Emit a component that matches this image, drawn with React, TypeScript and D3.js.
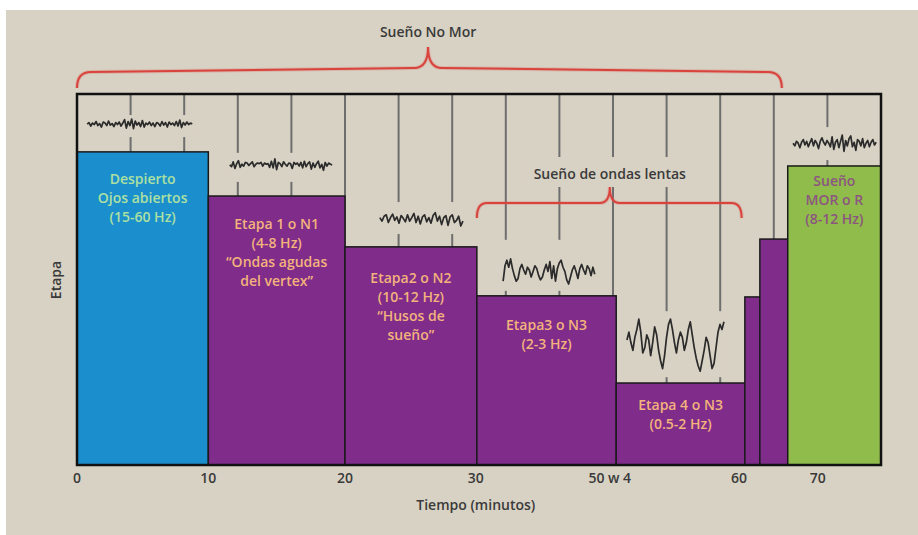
import React from "react";
import * as d3 from "d3";

// ---------- data ----------
const stageNames = ["Despierto", "Etapa 1", "Etapa 2", "Etapa 3", "Etapa 4", "Transición a", "Transición b", "MOR"];
// start / end on the horizontal position axis (grid units, 0..15)
const stageStart = [0, 2.45, 5.0, 7.46, 10.06, 12.46, 12.74, 13.26];
const stageEnd = [2.45, 5.0, 7.46, 10.06, 12.46, 12.74, 13.26, 15];
// bar height (0..100)
const stageLevel = [84.4, 72.5, 58.8, 45.6, 22.1, 45.3, 60.9, 80.6];
const stageKind = ["wake", "nrem", "nrem", "nrem", "nrem", "nrem", "nrem", "rem"];
const stageLabels = [
  ["Despierto", "Ojos abiertos", "(15-60 Hz)"],
  ["Etapa 1 o N1", "(4-8 Hz)", "“Ondas agudas", "del vertex”"],
  ["Etapa2 o N2", "(10-12 Hz)", "“Husos de", "sueño”"],
  ["Etapa3 o N3", "(2-3 Hz)"],
  ["Etapa 4 o N3", "(0.5-2 Hz)"],
  [],
  [],
  ["Sueño", "MOR o R", "(8-12 Hz)"],
];

const tickValues = [0, 2.45, 5.0, 7.44, 9.94, 12.35, 13.82];
const tickLabels = ["0", "10", "20", "30", "50 w 4", "60", "70"];
const gridValues = [1, 2, 3, 4, 5, 6, 7, 8, 9, 10, 11, 12, 13, 14];

// EEG traces (normalised amplitude)
const eegWake = [0, 0.3, -0.4, 0.2, -0.1, 0.5, -0.3, 0.1, -0.6, 0.4, 0.2, -0.3, 0.6, -0.2, 0.1, -0.5, 0.3, -0.1, 0.4, -0.4, 0.2, 0.9, -0.8, 0.5, -0.3, 1.0, -0.9, 0.6, -0.2, 0.3, -0.5, 0.7, -0.6, 0.2, -0.1, 0.4, -0.3, 0.2, -0.5, 0.3, 0.1, -0.4, 0.5, -0.2, 0.3, -0.6, 0.4, -0.1, 0.2, -0.3, 0.5, -0.4, 0.8, -0.7, 0.3, -0.2, 0.4, -0.1, 0.2, 0];
const eegN1 = [0, -0.3, 0.5, -0.6, 0.2, 0.7, -0.4, 0.1, -0.2, 0.4, 0.3, -0.1, 0.2, 0.5, -0.3, 0.1, 0.3, 0.2, 0.4, -0.2, 0.3, 0.1, 0.2, -0.4, 0.6, -0.5, 1.0, -0.8, 0.4, 0.2, -0.3, 0.5, 0.1, -0.2, 0.3, 0.2, -0.6, 0.4, 0.1, 0.3, -0.2, 0.4, -0.5, 0.6, -0.3, 0.2, 0.5, -0.7, 0.3, -0.4, 0.2, 0.6, -0.5, 0.1, -0.9, 0.4, -0.2, 0.3, 0.1, 0];
const eegN2 = [0.2, -0.3, 0.4, 0.6, -0.5, 0.2, 0.7, -0.2, 0.3, -0.6, 0.5, 0.1, -0.4, 0.6, -0.3, 0.2, 0.8, -0.5, 0.4, -0.7, 0.3, 0.6, -0.4, 0.2, -0.6, 0.5, 0.9, -0.3, 0.4, -0.8, 0.2, 0.5, -0.9, 0.3, 0.6, -0.5, -0.2, 0.4, -1.0, -0.3];
const eegN3 = [-0.6, 0.5, 0.9, 0.4, 1.0, 0.3, -0.2, -0.6, -0.4, 0.3, 0.6, 0.2, -0.1, 0.4, 0.2, -0.3, 0.1, 0.5, 0.3, -0.2, -0.5, -0.3, 0.2, 0.6, 0.1, 0.8, -0.4, 0.5, -0.6, 0.3, 0.7, 0.9, 0.4, 0.1, -0.5, -0.8, -0.3, 0.2, 0.5, 0.1, -0.4, 0.3, 0.6, 0.2, -0.1, 0.5, 0.3, -0.2, 0.4, -0.1];
const eegN4 = [0.2, 0.5, 0.1, -0.2, 0.3, 0.6, 1.0, 0.5, -0.3, -0.1, 0.4, 0.2, -0.4, 0.1, 0.7, 0.4, -0.2, -0.6, -0.9, -0.4, 0.3, 0.8, 1.0, 0.6, 0.1, -0.3, 0.2, 0.5, 0.3, -0.2, 0.1, 0.6, 0.9, 0.4, -0.1, -0.5, -0.8, -1.0, -0.6, -0.2, 0.3, 0.1, -0.4, -0.9, -0.7, -0.1, 0.5, 0.8, 0.6, 0.9];
const eegRem = [0.1, -0.2, 0.3, 0.1, -0.4, 0.2, 0.5, -0.1, 0.3, -0.3, 0.2, 0.6, -0.2, 0.4, 0.1, -0.5, 0.3, 0.7, 0.2, -0.1, 0.4, 0.1, -0.3, 0.8, -0.6, 0.2, 0.5, -0.4, 0.3, 1.0, -0.8, 0.4, -0.2, 0.6, 0.9, -0.3, 0.2, -0.7, 0.5, 0.3, -0.2, 0.6, -0.4, 0.1, 0.4, -0.3, 0.2, 0.5, -0.1, 0.2];

// ---------- layout ----------
const FONT = "'Open Sans', 'Noto Sans', sans-serif";
const BG = "#d8d2c4";
const COLORS: Record<string, string> = { wake: "#1b8fcd", nrem: "#7f2c8b", rem: "#8fbc4b" };
const LABEL_COLORS: Record<string, string> = { wake: "#ace0a2", nrem: "#f2b37c", rem: "#8c5580" };
const labelDy = [27, 28, 31, 29, 22, 0, 0, 15];

const traceLayout = [
  { data: eegWake, x0: 0.19, x1: 2.15, c: 91.9, amp: 5, boxUp: 9, boxDown: 13 },
  { data: eegN1, x0: 2.85, x1: 4.76, c: 80.9, amp: 6, boxUp: 12, boxDown: 17 },
  { data: eegN2, x0: 5.65, x1: 7.2, c: 66.3, amp: 7, boxUp: 17, boxDown: 15 },
  { data: eegN3, x0: 7.95, x1: 9.66, c: 51.8, amp: 14, boxUp: 33, boxDown: 18 },
  { data: eegN4, x0: 10.26, x1: 12.07, c: 32.3, amp: 26, boxUp: 34, boxDown: 32 },
  { data: eegRem, x0: 13.36, x1: 14.91, c: 86.5, amp: 9, boxUp: 17, boxDown: 16 },
];

function brace(x0: number, x1: number, xm: number, yEndH: number, yMidH: number, yEnd: number, yPeak: number, r: number) {
  const p = d3.path();
  p.moveTo(x0, yEnd);
  p.quadraticCurveTo(x0, yEndH, x0 + r, yEndH);
  p.lineTo(xm - r, yMidH);
  p.quadraticCurveTo(xm, yMidH, xm, yPeak);
  p.quadraticCurveTo(xm, yMidH, xm + r, yMidH);
  p.lineTo(x1 - r, yEndH);
  p.quadraticCurveTo(x1, yEndH, x1, yEnd);
  return p.toString();
}

export default function App() {
  const x = d3.scaleLinear().domain([0, 15]).range([77, 881]);
  const y = d3.scaleLinear().domain([0, 100]).range([465, 94]);
  const top = y(100), bottom = y(0);

  const bars = stageNames.map((name, i) => ({
    name,
    x0: x(stageStart[i]),
    x1: x(stageEnd[i]),
    yTop: y(stageLevel[i]),
    kind: stageKind[i],
    labels: stageLabels[i],
    dy: labelDy[i],
  }));

  const traces = traceLayout.map((t) => {
    const xs = d3.scaleLinear().domain([0, t.data.length - 1]).range([x(t.x0), x(t.x1)]);
    const cy = y(t.c);
    const line = d3.line<number>().x((_, i) => xs(i)).y((v) => cy - v * t.amp).curve(d3.curveLinear);
    return { path: line(t.data) || "", bx0: x(t.x0) - 4, bx1: x(t.x1) + 4, by0: cy - t.boxUp, by1: cy + t.boxDown };
  });

  const bigBrace = brace(x(0), x(13.15), x(6.55), 72, 68, 88, 47, 14);
  const slowBrace = brace(x(7.46), x(12.4), x(9.94), 203, 203, 218, 187, 10);

  return (
    <svg width={918} height={535} style={{ position: "absolute", left: 0, top: 0, display: "block" }} fontFamily={FONT}>
      <rect x={0} y={0} width={918} height={535} fill="#ffffff" />
      <rect x={6} y={10} width={912} height={525} fill={BG} />

      {/* grid lines */}
      {gridValues.map((g) => (
        <line key={g} x1={x(g)} x2={x(g)} y1={top} y2={bottom} stroke="#6e6e6e" strokeWidth={2} />
      ))}

      {/* trace boxes covering grid */}
      {traces.map((t, i) => (
        <rect key={"b" + i} x={t.bx0} y={t.by0} width={t.bx1 - t.bx0} height={t.by1 - t.by0} fill={BG} />
      ))}
      <rect x={x(9.94) - 86} y={157} width={172} height={30} fill={BG} />

      {/* traces */}
      {traces.map((t, i) => (
        <path key={"t" + i} d={t.path} fill="none" stroke="#2b2b2b" strokeWidth={1.7} strokeLinejoin="round" />
      ))}

      {/* slow wave brace */}
      <path d={slowBrace} fill="none" stroke="#e0605a" strokeWidth={4} opacity={0.25} />
      <path d={slowBrace} fill="none" stroke="#d8433c" strokeWidth={2} />
      <text x={x(9.94)} y={179} textAnchor="middle" fontSize={14} fontWeight={600} fill="#3a3a3a">Sueño de ondas lentas</text>

      {/* bars */}
      {bars.map((b, i) => (
        <rect key={"r" + i} x={b.x0} y={b.yTop} width={b.x1 - b.x0} height={bottom - b.yTop} fill={COLORS[b.kind]} stroke="#1a1a1a" strokeWidth={1.5} />
      ))}
      {bars.map((b, i) => (
        <g key={"l" + i}>
          {b.labels.map((s, j) => (
            <text key={j} x={(b.x0 + b.x1) / 2} y={b.yTop + b.dy + j * 19 + 5} textAnchor="middle" fontSize={14} fontWeight={600} fill={LABEL_COLORS[b.kind]}>
              {s}
            </text>
          ))}
        </g>
      ))}

      {/* frame */}
      <rect x={x(0)} y={top} width={x(15) - x(0)} height={bottom - top} fill="none" stroke="#111" strokeWidth={2.5} />

      {/* x axis */}
      {tickValues.map((v, i) => (
        <text key={"x" + i} x={x(v)} y={483} textAnchor="middle" fontSize={14} fontWeight={600} fill="#3a3a3a">{tickLabels[i]}</text>
      ))}
      <text x={x(7.44)} y={510} textAnchor="middle" fontSize={14} fontWeight={600} fill="#3a3a3a">Tiempo (minutos)</text>
      <text transform="translate(61,280) rotate(-90)" textAnchor="middle" fontSize={14} fontWeight={600} fill="#3a3a3a">Etapa</text>

      {/* top brace */}
      <path d={bigBrace} fill="none" stroke="#e0605a" strokeWidth={4} opacity={0.25} />
      <path d={bigBrace} fill="none" stroke="#d8433c" strokeWidth={2} />
      <text x={x(6.55)} y={37} textAnchor="middle" fontSize={14} fontWeight={600} fill="#3a3a3a">Sueño No Mor</text>
    </svg>
  );
}
